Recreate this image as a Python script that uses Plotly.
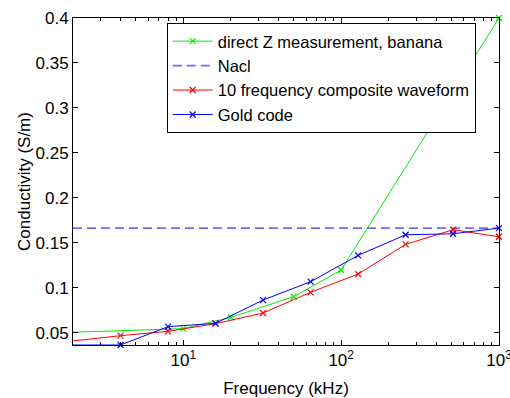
import plotly.graph_objects as go

# ---- data ----
freq_direct = [2, 10, 20, 50, 100, 1000]
cond_direct = [0.0505, 0.0545, 0.067, 0.090, 0.1197, 0.4]

freq_nacl = [2, 1000]
cond_nacl = [0.1663, 0.1663]

freq_10f = [2, 4, 8, 16, 32, 64, 128, 256, 512, 1000]
cond_10f = [0.0408, 0.0467, 0.0515, 0.060, 0.0719, 0.0949, 0.1152, 0.1482, 0.1645, 0.1567]

freq_gold = [2, 4, 8, 16, 32, 64, 128, 256, 512, 1000]
cond_gold = [0.0363, 0.0363, 0.0567, 0.0604, 0.0863, 0.1067, 0.136, 0.1589, 0.160, 0.1663]

x_major = [10, 100, 1000]
x_major_text = ["10<sup>1</sup>", "10<sup>2</sup>", "10<sup>3</sup>"]
y_major = [0.05, 0.1, 0.15, 0.2, 0.25, 0.3, 0.35, 0.4]
y_major_text = ["0.05", "0.1", "0.15", "0.2", "0.25", "0.3", "0.35", "0.4"]

FONT = "Liberation Sans, Arial, Helvetica, sans-serif"
FS = 17

minor_x = [m * 10 ** e for e in range(0, 3) for m in range(2, 10) if 2 < m * 10 ** e < 1000]

def mk(color):
    return dict(symbol="x-thin", size=6, line=dict(color=color, width=1.2), color=color)

fig = go.Figure()
fig.add_trace(go.Scatter(x=freq_direct, y=cond_direct, mode="lines+markers",
                         name="direct Z measurement, banana",
                         line=dict(color="#00ee00", width=1), marker=mk("#00ee00"),
                         cliponaxis=False))
fig.add_trace(go.Scatter(x=freq_nacl, y=cond_nacl, mode="lines", name="Nacl",
                         line=dict(color="rgba(60,60,255,0.75)", width=1.6, dash="9px,5px")))
fig.add_trace(go.Scatter(x=freq_10f, y=cond_10f, mode="lines+markers",
                         name="10 frequency composite waveform",
                         line=dict(color="#ff0000", width=1), marker=mk("#ff0000"),
                         cliponaxis=False))
fig.add_trace(go.Scatter(x=freq_gold, y=cond_gold, mode="lines+markers", name="Gold code",
                         line=dict(color="#0000ff", width=1), marker=mk("#0000ff"),
                         cliponaxis=False))

fig.update_layout(
    width=510, height=398,
    margin=dict(l=73, r=11, t=18, b=53),
    paper_bgcolor="white", plot_bgcolor="white",
    font=dict(family=FONT, size=FS, color="black"),
    showlegend=True,
    legend=dict(x=0.22, y=0.985, xanchor="left", yanchor="top",
                bgcolor="white", bordercolor="black", borderwidth=1,
                font=dict(family=FONT, size=16.5, color="black"),
                itemwidth=40, tracegroupgap=0),
    xaxis=dict(type="log", range=[0.30103, 3], tickmode="array",
               tickvals=x_major, ticktext=x_major_text, automargin=False,
               ticks="inside", ticklen=5, tickcolor="black",
               showline=True, linecolor="black", linewidth=1, mirror="ticks",
               showgrid=False, zeroline=False, ticklabelstandoff=0,
               ticklabeloverflow="allow",
               tickfont=dict(family=FONT, size=FS, color="black"),
               minor=dict(tickvals=minor_x, ticks="inside", ticklen=3, tickcolor="black",
                          showgrid=False),
               title=dict(text="Frequency (kHz)", standoff=12,
                          font=dict(family=FONT, size=FS, color="black"))),
    yaxis=dict(range=[0.0363, 0.4], tickmode="array",
               tickvals=y_major, ticktext=y_major_text, automargin=False,
               ticks="inside", ticklen=5, tickcolor="black",
               showline=True, linecolor="black", linewidth=1, mirror="ticks",
               showgrid=False, zeroline=False, ticklabelstandoff=0,
               tickfont=dict(family=FONT, size=FS, color="black"),
               title=dict(text="Conductivity (S/m)", standoff=0,
                          font=dict(family=FONT, size=FS, color="black"))),
)

fig.write_html("out.html")
